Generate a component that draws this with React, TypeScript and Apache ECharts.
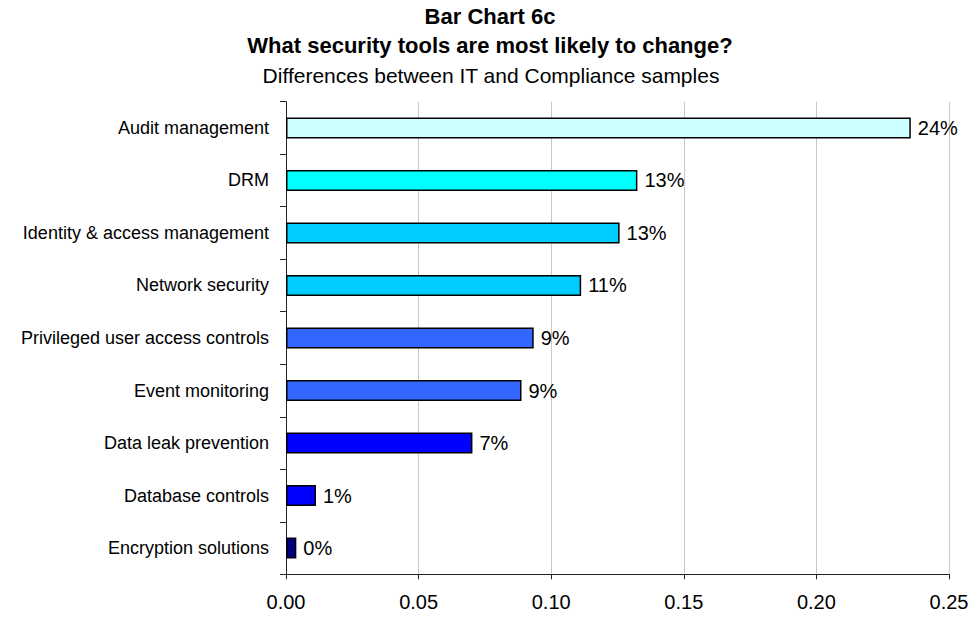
import React, { useEffect, useRef } from "react";
import * as echarts from "echarts";

const categories = [
  "Audit management",
  "DRM",
  "Identity & access management",
  "Network security",
  "Privileged user access controls",
  "Event monitoring",
  "Data leak prevention",
  "Database controls",
  "Encryption solutions",
];
const values = [0.2356, 0.1325, 0.1258, 0.1113, 0.0934, 0.0888, 0.0703, 0.0113, 0.0039];
const barColors = [
  "#CCFFFF",
  "#00FFFF",
  "#00CCFF",
  "#00CCFF",
  "#3366FF",
  "#3366FF",
  "#0000FF",
  "#0000FF",
  "#000080",
];
const xTicks = [0, 0.05, 0.1, 0.15, 0.2, 0.25];
const titleLines = [
  "Bar Chart 6c",
  "What security tools are most likely to change?",
  "Differences between IT and Compliance samples",
];

const FONT = "'Liberation Sans', Arial, sans-serif";

export default function App() {
  const ref = useRef<HTMLDivElement>(null);
  useEffect(() => {
    if (!ref.current) return;
    const chart = echarts.init(ref.current, null, { renderer: "svg" });
    chart.setOption({
      animation: false,
      backgroundColor: "#ffffff",
      textStyle: { fontFamily: FONT },
      graphic: [
        {
          type: "text",
          x: 490,
          y: 16.5,
          style: {
            text: titleLines[0],
            font: `bold 22px ${FONT}`,
            fill: "#000",
            textAlign: "center",
            textVerticalAlign: "middle",
          },
        },
        {
          type: "text",
          x: 490,
          y: 45.5,
          style: {
            text: titleLines[1],
            font: `bold 22px ${FONT}`,
            fill: "#000",
            textAlign: "center",
            textVerticalAlign: "middle",
          },
        },
        {
          type: "text",
          x: 491,
          y: 75.5,
          style: {
            text: titleLines[2],
            font: `21px ${FONT}`,
            fill: "#000",
            textAlign: "center",
            textVerticalAlign: "middle",
          },
        },
      ],
      grid: {
        left: 286,
        right: 24,
        top: 101.7,
        bottom: 43.7,
        containLabel: false,
      },
      xAxis: {
        type: "value",
        min: 0,
        max: 0.25,
        interval: 0.05,
        axisLine: { show: true, lineStyle: { color: "#222", width: 1 } },
        axisTick: { show: true, length: 5, lineStyle: { color: "#222" } },
        splitLine: { show: true, lineStyle: { color: "#c8c8c8", width: 1 } },
        axisLabel: {
          fontSize: 20,
          color: "#000",
          margin: 18,
          fontFamily: FONT,
          formatter: (v: number) => {
            const idx = xTicks.findIndex((t) => Math.abs(t - v) < 1e-9);
            return (idx >= 0 ? xTicks[idx] : v).toFixed(2);
          },
        },
      },
      yAxis: {
        type: "category",
        data: categories,
        inverse: true,
        axisLine: { show: true, lineStyle: { color: "#222", width: 1 } },
        axisTick: { show: true, length: 6, lineStyle: { color: "#222" } },
        splitLine: { show: false },
        axisLabel: {
          fontSize: 18,
          color: "#000",
          margin: 17,
          fontFamily: FONT,
        },
      },
      series: [
        {
          type: "bar",
          barWidth: 21,
          data: values.map((v, i) => ({
            value: v,
            itemStyle: { color: barColors[i] },
          })),
          itemStyle: { borderColor: "#000", borderWidth: 1.5 },
          label: {
            show: true,
            position: "right",
            distance: 7,
            fontSize: 20,
            color: "#000",
            fontFamily: FONT,
            formatter: (p: any) => Math.round(p.value * 100) + "%",
          },
        },
      ],
    });
    return () => chart.dispose();
  }, []);
  return (
    <div
      ref={ref}
      style={{ position: "fixed", left: 0, top: 0, width: 973, height: 618 }}
    />
  );
}
